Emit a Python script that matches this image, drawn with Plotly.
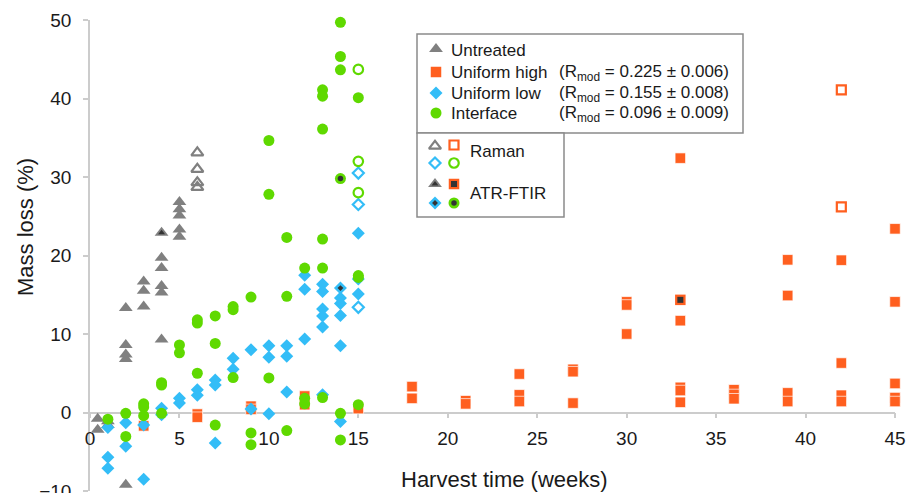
import plotly.graph_objects as go

# ---------------- data (weeks, mass loss %) ----------------
untreated_x = [0.43, 0.43, 1, 1, 2, 2, 2, 2, 2, 3, 3, 3, 4, 4, 4, 4, 4, 5, 5, 5, 5, 5]
untreated_y = [-0.8, -2.2, -1.1, -1.6, 13.3, 8.6, 7.4, 6.8, -9.2, 16.7, 15.5, 13.5,
               19.7, 18.4, 16.1, 15.3, 9.3, 26.8, 25.9, 25.1, 23.3, 22.4]
untreated_raman_x = [6, 6, 6, 6]
untreated_raman_y = [33.1, 31.0, 29.3, 28.7]
untreated_atr_x = [4]
untreated_atr_y = [22.9]

high_x = [3, 6, 6, 9, 9, 12, 12, 15, 18, 18, 21, 21, 24, 24, 24, 27, 27, 27,
          30, 30, 30, 33, 33, 33, 33, 33, 36, 36, 36, 39, 39, 39, 39,
          42, 42, 42, 42, 45, 45, 45, 45, 45]
high_y = [-1.7, -0.2, -0.6, 0.8, 0.4, 2.1, 1.0, 0.5, 3.3, 1.8, 1.5, 1.1, 4.9, 2.25, 1.4,
          5.5, 5.2, 1.2, 14.1, 13.7, 10.0, 32.4, 11.7, 3.2, 2.8, 1.3, 2.9, 2.3, 1.75,
          19.45, 14.9, 2.5, 1.4, 19.4, 6.3, 2.2, 1.4, 23.4, 14.1, 3.7, 1.9, 1.4]
high_raman_x = [42, 42]
high_raman_y = [41.1, 26.2]
high_atr_x = [33]
high_atr_y = [14.35]

low_x = [1, 1, 1, 2, 2, 3, 3, 4, 4, 5, 5, 6, 6, 7, 7, 7, 8, 8, 9, 9, 10, 10, 10,
         11, 11, 11, 12, 12, 12, 13, 13, 13, 13, 13, 13, 14, 14, 14, 14, 14,
         15, 15, 15]
low_y = [-1.9, -5.7, -7.1, -1.3, -4.3, -1.6, -8.5, 0.55, -0.3, 1.8, 1.2, 2.9, 2.2,
         4.15, 3.5, -3.9, 6.9, 5.5, 8.0, 0.45, 8.5, 7.05, -0.15, 8.5, 7.15, 2.6,
         17.5, 15.7, 9.35, 16.35, 15.4, 13.2, 12.3, 10.9, 2.25, 14.6, 13.9, 12.35,
         8.5, -1.15, 17.0, 15.1, 22.85]
low_raman_x = [15, 15, 15]
low_raman_y = [30.5, 26.5, 13.4]
low_atr_x = [14]
low_atr_y = [15.85]

inter_x = [1, 2, 2, 3, 3, 3, 4, 4, 4, 5, 5, 6, 6, 6, 7, 7, 7, 8, 8, 8, 9, 9, 9,
           10, 10, 10, 11, 11, 11, 12, 12, 12, 13, 13, 13, 13, 13, 13,
           14, 14, 14, 14, 14, 15, 15, 15, 15]
inter_y = [-0.85, -0.1, -3.05, 1.1, 0.7, -0.4, 3.8, 3.5, -0.1, 8.6, 7.6, 11.8, 11.4, 5.0,
           12.3, 8.8, -1.6, 13.5, 13.1, 4.45, 14.7, -2.6, -4.1, 34.65, 27.8, 4.4,
           22.3, 14.8, -2.3, 18.4, 1.8, 1.1, 41.1, 40.3, 36.1, 22.1, 18.4, 1.9,
           49.7, 45.35, 43.65, -0.1, -3.5, 40.1, 17.45, 17.2, 1.0]
inter_raman_x = [15, 15, 15]
inter_raman_y = [43.7, 32.0, 28.0]
inter_atr_x = [14]
inter_atr_y = [29.8]

x_ticks = [0, 5, 10, 15, 20, 25, 30, 35, 40, 45]
y_ticks = [-10, 0, 10, 20, 30, 40, 50]

legend_names = ["Untreated", "Uniform high", "Uniform low", "Interface"]
legend_rmod = ["", "0.225 ± 0.006", "0.155 ± 0.008", "0.096 ± 0.009"]

# ---------------- style ----------------
GRAY = "#808080"
ORANGE = "#ff5f1f"
BLUE = "#33bdf7"
GREEN = "#5fd900"
DARK = "#333333"
AXIS = "#cccccc"
TXT = "#1a1a1a"
FONT = "Liberation Sans, Arial, sans-serif"

# symbol, colour, size, data..., inner (ATR) size
series = [
    ("triangle-up", GRAY, 12, untreated_x, untreated_y, untreated_raman_x, untreated_raman_y, untreated_atr_x, untreated_atr_y, 6),
    ("square", ORANGE, 10.5, high_x, high_y, high_raman_x, high_raman_y, high_atr_x, high_atr_y, 6),
    ("diamond", BLUE, 10, low_x, low_y, low_raman_x, low_raman_y, low_atr_x, low_atr_y, 4.5),
    ("circle", GREEN, 11, inter_x, inter_y, inter_raman_x, inter_raman_y, inter_atr_x, inter_atr_y, 5.5),
]

fig = go.Figure()

for sym, col, size, x, y, rx, ry, ax, ay, inner in series:
    edge = dict(width=0.8, color="rgba(255,255,255,0.85)") if sym == "square" else dict(width=0)
    fig.add_trace(go.Scatter(x=x, y=y, mode="markers", cliponaxis=False,
                             marker=dict(symbol=sym, color=col, size=size, line=edge)))
for sym, col, size, x, y, rx, ry, ax, ay, inner in series:
    fig.add_trace(go.Scatter(x=rx, y=ry, mode="markers", cliponaxis=False,
                             marker=dict(symbol=sym + "-open", color=col, size=size - 1.5,
                                         line=dict(width=2.2, color=col))))
    fig.add_trace(go.Scatter(x=ax, y=ay, mode="markers", cliponaxis=False,
                             marker=dict(symbol=sym, color=col, size=size, line=dict(width=0))))
    fig.add_trace(go.Scatter(x=ax, y=ay, mode="markers", cliponaxis=False,
                             marker=dict(symbol=sym, color=DARK, size=inner, line=dict(width=0))))

# ---------------- custom legend (pixel overlay axes) ----------------
L, R, T, B = 90, 895, 20, 491
fig.add_shape(type="rect", xref="x2", yref="y2", x0=417, x1=743, y0=34, y1=133,
              line=dict(color="#8a8a8a", width=1.5), fillcolor="white", layer="below")
fig.add_shape(type="rect", xref="x2", yref="y2", x0=417, x1=564, y0=133, y1=217,
              line=dict(color="#8a8a8a", width=1.5), fillcolor="white", layer="below")

rows_y = [50, 72, 93, 113]
for i, (sym, col, size, *_rest) in enumerate(series):
    fig.add_trace(go.Scatter(x=[436], y=[rows_y[i] - (1 if sym == "triangle-up" else 0)],
                             xaxis="x2", yaxis="y2", mode="markers", cliponaxis=False,
                             marker=dict(symbol=sym, color=col, size=size, line=dict(width=0))))
    fig.add_annotation(xref="x2", yref="y2", x=449, y=rows_y[i], text=legend_names[i],
                       showarrow=False, xanchor="left", yanchor="middle",
                       font=dict(size=17, color=TXT, family=FONT))
    if legend_rmod[i]:
        fig.add_annotation(xref="x2", yref="y2", x=557, y=rows_y[i] + 1,
                           text="(R<sub>mod</sub> = " + legend_rmod[i] + ")",
                           showarrow=False, xanchor="left", yanchor="middle",
                           font=dict(size=17, color=TXT, family=FONT))

key_pos = [(435, 146), (454, 145), (435, 163), (454, 163)]
atr_pos = [(435, 184), (454, 184), (435, 203), (454, 203)]
for (sym, col, size, *_r), (kx, ky), (axx, ayy) in zip(series, key_pos, atr_pos):
    inner = _r[-1]
    fig.add_trace(go.Scatter(x=[kx], y=[ky], xaxis="x2", yaxis="y2", mode="markers", cliponaxis=False,
                             marker=dict(symbol=sym + "-open", color=col, size=size - 1.5,
                                         line=dict(width=2.2, color=col))))
    fig.add_trace(go.Scatter(x=[axx], y=[ayy], xaxis="x2", yaxis="y2", mode="markers", cliponaxis=False,
                             marker=dict(symbol=sym, color=col, size=size, line=dict(width=0))))
    fig.add_trace(go.Scatter(x=[axx], y=[ayy], xaxis="x2", yaxis="y2", mode="markers", cliponaxis=False,
                             marker=dict(symbol=sym, color=DARK, size=inner, line=dict(width=0))))
fig.add_annotation(xref="x2", yref="y2", x=468, y=151, text="Raman", showarrow=False,
                   xanchor="left", yanchor="middle", font=dict(size=17, color=TXT, family=FONT))
fig.add_annotation(xref="x2", yref="y2", x=468, y=193, text="ATR-FTIR", showarrow=False,
                   xanchor="left", yanchor="middle", font=dict(size=17, color=TXT, family=FONT))

# axis titles
fig.add_annotation(xref="x2", yref="y2", x=504, y=479, text="Harvest time (weeks)", showarrow=False,
                   xanchor="center", yanchor="middle", font=dict(size=22, color=TXT, family=FONT))
fig.add_annotation(xref="paper", yref="paper", x=(25 - L) / (R - L), y=(B - 227) / (B - T),
                   text="Mass loss (%)", showarrow=False,
                   textangle=-90, xanchor="center", yanchor="middle",
                   font=dict(size=22, color=TXT, family=FONT))

fig.update_layout(
    width=907, height=493,
    margin=dict(l=L, r=907 - R, t=T, b=493 - B, autoexpand=False),
    plot_bgcolor="white", paper_bgcolor="white",
    showlegend=False,
    font=dict(family=FONT, color=TXT),
    xaxis=dict(range=[0, 45], tickvals=x_ticks, anchor="free", position=10 / 60,
               showline=True, linecolor=AXIS, linewidth=1.5, ticks="outside", ticklen=5,
               tickcolor=AXIS, tickwidth=1.5, showgrid=False, zeroline=False,
               tickfont=dict(size=19, color=TXT, family=FONT), layer="below traces",
               ticklabelstandoff=4, ticklabeloverflow="allow", automargin=False),
    yaxis=dict(range=[-10, 50], tickvals=y_ticks, showline=True, linecolor=AXIS, linewidth=1.5,
               ticks="outside", ticklen=5, tickcolor=AXIS, tickwidth=1.5, showgrid=False,
               zeroline=False, tickfont=dict(size=19, color=TXT, family=FONT),
               layer="below traces", ticklabelstandoff=8, ticklabeloverflow="allow",
               automargin=False),
    xaxis2=dict(range=[L, R], overlaying="x", visible=False, anchor="y2"),
    yaxis2=dict(range=[B, T], overlaying="y", visible=False, anchor="x2"),
)

fig.write_html("out.html")
